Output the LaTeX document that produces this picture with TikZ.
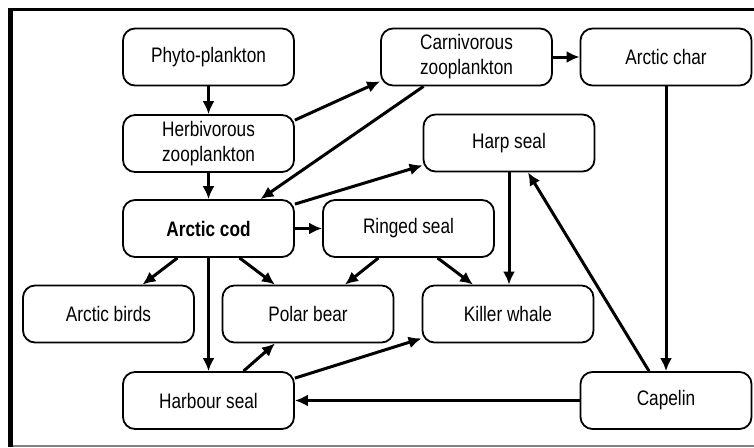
\documentclass[tikz,border=0pt]{standalone}
\usepackage{fontspec}
\setmainfont[FakeStretch=0.82]{Liberation Sans}
\usetikzlibrary{arrows.meta}

\begin{document}
\begin{tikzpicture}[x=1pt, y=-1pt,
  species/.style={draw, line width=1.8pt, rounded corners=12pt,
    minimum width=171pt, minimum height=57pt, inner sep=2pt,
    align=center, font=\fontsize{21}{25}\selectfont},
  feeds/.style={-{Latex[length=13pt,width=12pt]}, line width=3pt}]
  \useasboundingbox (0,0) rectangle (754,447);
  \fill[white] (0,0) rectangle (754,447);
  %% ── Frame ────────────────────────────────────────────────
  \draw[line width=5pt] (10.5,7.5) -- (10.5,447);
  \draw[line width=2.5pt] (8,9.3) -- (754,9.3);
  \draw[gray, line width=1.5pt] (13,446.2) -- (754,446.2);

  %% ── Species ──────────────────────────────────────────────
  \node[species] (phyto)   at (208.5,57)    {Phyto-plankton};
  \node[species] (herbi)   at (208.5,143.5) {Herbivorous\\zooplankton};
  \node[species] (carni)   at (466.5,57)    {Carnivorous\\zooplankton};
  \node[species] (char)    at (666,57)      {Arctic char};
  \node[species] (harp)    at (509,143)     {Harp seal};
  \node[species] (cod)     at (208.5,228.5) {\bfseries Arctic cod};
  \node[species] (ringed)  at (408.5,228.5) {Ringed seal};
  \node[species] (birds)   at (108.5,314)   {Arctic birds};
  \node[species] (polar)   at (308,314)     {Polar bear};
  \node[species] (killer)  at (508,314)     {Killer whale};
  \node[species] (harbour) at (208.5,400.5) {Harbour seal};
  \node[species] (capelin) at (666,400.5)   {Capelin};

  %% ── Who eats whom ────────────────────────────────────────
  \draw[feeds] (phyto) -- (herbi);
  \draw[feeds] ([yshift=-6pt]herbi.north east) -- ([yshift=5pt]carni.south west);
  \draw[feeds] ([xshift=-43pt]carni.south) -- ([xshift=52pt]cod.north);
  \draw[feeds] (herbi) -- (cod);
  \draw[feeds] ([yshift=-5pt]cod.north east) -- ([yshift=7pt]harp.south west);
  \draw[feeds] (carni) -- (char);
  \draw[feeds] (char) -- (capelin);
  \draw[feeds] ([xshift=-17pt]capelin.north) -- ([xshift=19pt]harp.south);
  \draw[feeds] (harp.south) -- (harp.south |- killer.north);
  \draw[feeds] (cod) -- (ringed);
  \draw[feeds] ([xshift=-30pt]ringed.south) -- ([xshift=37pt]polar.north);
  \draw[feeds] ([xshift=29pt]ringed.south) -- ([xshift=-35pt]killer.north);
  \draw[feeds] ([xshift=-31pt]cod.south) -- ([xshift=34pt]birds.north);
  \draw[feeds] ([xshift=31pt]cod.south) -- ([xshift=-33pt]polar.north);
  \draw[feeds] (cod) -- (harbour);
  \draw[feeds] ([xshift=35pt]harbour.north) -- ([xshift=-33pt]polar.south);
  \draw[feeds] ([yshift=-7pt]harbour.north east) -- ([yshift=5pt]killer.south west);
  \draw[feeds] (capelin) -- (harbour);
\end{tikzpicture}
\end{document}
